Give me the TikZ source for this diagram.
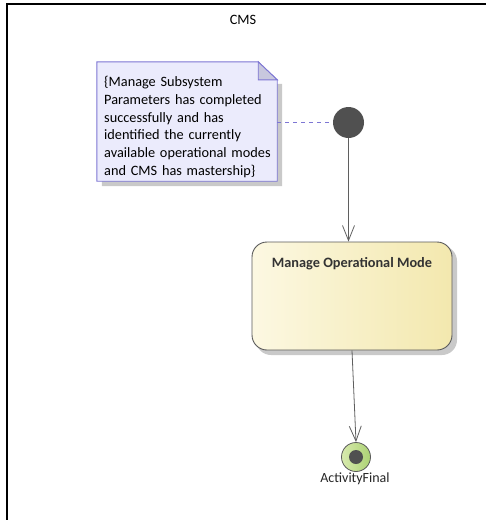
\documentclass[tikz,border=0pt]{standalone}
\usepackage{fontspec}
\setmainfont{Carlito}
\usetikzlibrary{arrows.meta,calc,shadows}
\definecolor{notefill}{HTML}{EBEBFC}
\definecolor{noteline}{HTML}{7D76D4}
\definecolor{notefold}{HTML}{C8C8DE}
\definecolor{shadowgray}{HTML}{C9C9C9}
\definecolor{nodegray}{HTML}{505050}
\definecolor{actleft}{HTML}{FCF8E2}
\definecolor{actright}{HTML}{F3E8AE}
\definecolor{actline}{HTML}{5A5A5A}
\definecolor{finleft}{HTML}{D8EAAE}
\definecolor{finright}{HTML}{ACD274}
\definecolor{arrowgray}{HTML}{5F5F5F}
\begin{document}
\begin{tikzpicture}[x=1pt,y=-1pt,
  txt/.style={font=\fontsize{14.3}{17.8}\selectfont},
  notebox/.style={minimum width=180pt, minimum height=119pt, inner sep=0pt},
  notetext/.style={txt, align=left, text width=176pt, inner sep=0pt, anchor=north west},
  actbox/.style={rounded corners=15pt, minimum width=200pt, minimum height=108pt, draw=actline, line width=0.9pt, left color=actleft, right color=actright},
  initnode/.style={circle, fill=nodegray, minimum size=31pt, inner sep=0pt},
  finnode/.style={circle, draw=actline, line width=0.8pt, left color=finleft, right color=finright, minimum size=29pt, inner sep=0pt},
  findot/.style={circle, fill=nodegray, minimum size=14pt, inner sep=0pt},
  flow/.style={draw=arrowgray, line width=0.8pt, -{Straight Barb[length=15pt, width=12pt, line width=0.8pt]}},
  notelink/.style={draw=noteline, line width=0.8pt, dash pattern=on 4pt off 4pt}
]
\useasboundingbox (0,0) rectangle (486,520);
\fill[white] (0,0) rectangle (486,520);
% frame
\draw[line width=1.5pt] (7,520) -- (7,4) -- (486,4);
\node[txt] (title) at (243,20) {CMS};

% note
\node[notebox] (note) at (187,121.5) {};
\fill[shadowgray] ($(note.north east)+(0,22)$) -- ($(note.north east)+(5,22)$) -- ($(note.south east)+(5,5)$) -- ($(note.south west)+(5,5)$) -- ($(note.south west)+(5,0)$) -- (note.south east) -- cycle;
\filldraw[fill=notefill, draw=noteline, line width=0.9pt] (note.north west) -- ($(note.north east)+(-19,0)$) -- ($(note.north east)+(0,18)$) -- (note.south east) -- (note.south west) -- cycle;
\filldraw[fill=notefold, draw=noteline, line width=0.9pt] ($(note.north east)+(-19,0)$) -- ($(note.north east)+(-19,18)$) -- ($(note.north east)+(0,18)$) -- cycle;
\node[notetext] (notetxt) at (104,76) {\{Manage Subsystem\\Parameters has completed\\successfully and has\\identified the currently\\available operational modes\\and CMS has mastership\}};

% initial
\node[initnode] (init) at (348.5,122.5) {};
\draw[notelink] (note.east |- init.west) -- (init.west);

% activity
\fill[shadowgray, rounded corners=15pt] (256,246) rectangle (457,355);
\node[actbox] (act) at (352,296) {};
\node[txt, font=\fontsize{14.3}{17.8}\selectfont\bfseries, text=black!80] (acttitle) at ($(act.north)+(0,22)$) {Manage Operational Mode};

% final
\node[finnode] (final) at (356,457) {};
\node[findot] (finaldot) at (final.center) {};
\node[txt, font=\fontsize{14}{16}\selectfont, text=black!85] (finlabel) at (355,479) {ActivityFinal};

% flows
\draw[flow] (init.south) -- (init.south |- act.north);
\draw[flow] (act.south) -- (final.north);
\end{tikzpicture}
\end{document}
